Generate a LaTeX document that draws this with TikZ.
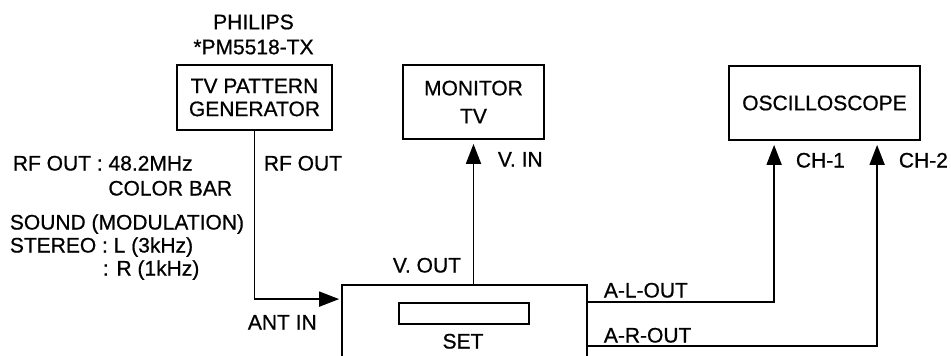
\documentclass[tikz,border=0pt]{standalone}
\usepackage{fontspec}
\setmainfont{Liberation Sans}[FakeBold=0.7]
\usetikzlibrary{arrows.meta}
\begin{document}
\begin{tikzpicture}[x=1pt,y=-1pt,
  font=\fontsize{21}{25}\selectfont,
  line width=1.8pt,
  box/.style={draw, inner sep=0pt, align=center},
  lbl/.style={inner sep=0pt, text height=15pt, text depth=0pt},
  arr/.style={-{Triangle[length=20pt,width=15pt]}}]
\useasboundingbox (0,0) rectangle (951,356);

% boxes
\node[box, minimum width=155pt, minimum height=65pt, font=\fontsize{21}{23}\selectfont] (gen) at (254.5,97.5) {TV PATTERN\\GENERATOR};
\node[align=center, inner sep=0pt] (brand) at (253.5,34.5) {PHILIPS\\*PM5518-TX};
\node[box, minimum width=141pt, minimum height=74pt, font=\fontsize{21}{28}\selectfont] (mon) at (473.5,102) {MONITOR\\TV};
\node[box, minimum width=191pt, minimum height=74pt] (osc) at (824.5,103) {OSCILLOSCOPE};
\node[inner sep=0pt, minimum width=243pt, minimum height=70pt] (set) at (464.5,321) {};
\draw (set.south west) -- (set.north west) -- (set.north east) -- (set.south east);
\node[box, minimum width=130pt, minimum height=21pt, line width=1.5pt] (disp) at (464,313.5) {};
\node[lbl] (setlbl) at (463,341) {SET};

% connectors
\draw[arr] (gen.south) |- ([xshift=-3pt,yshift=-14pt]set.north west);
\draw[arr] (set.north -| mon.south) -- ([yshift=-4pt]mon.south);
\draw[arr] ([yshift=-17pt]set.north east) -| ([xshift=46pt,yshift=-4pt]osc.south west);
\draw[arr] ([yshift=-61pt]set.north east) -| ([xshift=149pt,yshift=-4pt]osc.south west);

% labels
\node[lbl, anchor=west] (rfout) at (263,163) {RF OUT};
\node[lbl, anchor=west] (rfinfo) at (12,163) {RF OUT : 48.2MHz};
\node[lbl, anchor=east] (colorbar) at (233,188) {COLOR BAR};
\node[lbl, anchor=west] (sound) at (9,222) {SOUND (MODULATION)};
\node[lbl, anchor=west] (stereo) at (9,245) {STEREO : L (3kHz)};
\node[lbl, anchor=west] (right) at (102,268) {: R (1kHz)};
\node[lbl, anchor=west] (antin) at (247,322) {ANT IN};
\node[lbl, anchor=west] (vout) at (392,265) {V. OUT};
\node[lbl, anchor=west] (vin) at (497,159) {V. IN};
\node[lbl, anchor=west] (alout) at (603,290) {A-L-OUT};
\node[lbl, anchor=west] (arout) at (603,335) {A-R-OUT};
\node[lbl, anchor=west] (ch1) at (795,160) {CH-1};
\node[lbl, anchor=west] (ch2) at (898,160) {CH-2};
\end{tikzpicture}
\end{document}
